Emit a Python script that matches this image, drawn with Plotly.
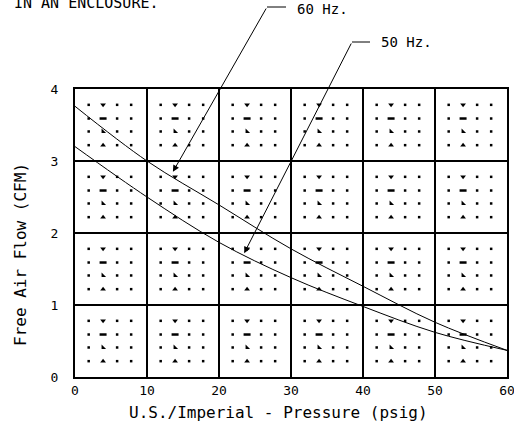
import plotly.graph_objects as go

pressure = [0, 10, 20, 30, 40, 50, 60]
flow_60hz = [3.76, 3.00, 2.39, 1.78, 1.26, 0.76, 0.37]
flow_50hz = [3.20, 2.50, 1.87, 1.38, 0.98, 0.62, 0.37]
x_ticks = [0, 10, 20, 30, 40, 50, 60]
y_ticks = [0, 1, 2, 3, 4]

FONT = "DejaVu Sans Mono"
L, R, T, B = 75, 7, 89, 48
W, H = 514, 425
PW, PH = W - L - R, H - T - B


def px2paper(px, py):
    return (px - L) / PW, (H - B - py) / PH


fig = go.Figure()

# decorative dot pattern inside each grid cell
xo = [0.19, 0.39, 0.585, 0.78]
yo = [0.78, 0.59, 0.41, 0.22]
dots_x, dots_y = [], []
special = {0: ([], [], "triangle-down"), 1: ([], [], "line-ew"),
           2: ([], [], "triangle-sw"), 3: ([], [], "triangle-up")}
for cx in range(6):
    for cy in range(4):
        for i, fx in enumerate(xo):
            for j, fy in enumerate(yo):
                px = cx * 10 + fx * 10
                py = cy + fy
                if i == 1:
                    special[j][0].append(px)
                    special[j][1].append(py)
                else:
                    dots_x.append(px)
                    dots_y.append(py)
fig.add_trace(go.Scatter(x=dots_x, y=dots_y, mode="markers", hoverinfo="skip",
                         marker=dict(symbol="square", size=2.5, color="black", line_width=0),
                         showlegend=False))
for j, (sx, sy, sym) in special.items():
    if sym == "line-ew":
        mk = dict(symbol=sym, size=5, color="black", line=dict(width=2.5, color="black"))
    else:
        mk = dict(symbol=sym, size=5, color="black", line=dict(width=0))
    fig.add_trace(go.Scatter(x=sx, y=sy, mode="markers", hoverinfo="skip", marker=mk, showlegend=False))

fig.add_trace(go.Scatter(x=pressure, y=flow_60hz, mode="lines", name="60 Hz.",
                         line=dict(color="black", width=1, shape="spline"), showlegend=False))
fig.add_trace(go.Scatter(x=pressure, y=flow_50hz, mode="lines", name="50 Hz.",
                         line=dict(color="black", width=1, shape="spline"), showlegend=False))

axis_common = dict(showline=True, linecolor="black", linewidth=2, mirror=True,
                   showgrid=True, gridcolor="black", gridwidth=2, zeroline=False,
                   automargin=False, ticklabeloverflow="allow",
                   ticks="", tickfont=dict(family=FONT, size=13, color="black"))
fig.update_xaxes(range=[0, 60], tickvals=x_ticks, ticktext=[str(v) for v in x_ticks], **axis_common)
fig.update_yaxes(range=[0, 4], tickvals=y_ticks, ticktext=[str(v) for v in y_ticks],
                 ticklabelstandoff=12, **axis_common)

ann = []
shapes = []
# leader lines: (tip in data), tail pixel, horizontal end pixel, label, label left pixel, label y
for tip, tail, hend, label, lx, ly in [((13.6, 2.85), (267, 7), 286, "60 Hz.", 295, 9),
                                       ((23.5, 1.72), (352, 42), 370, "50 Hz.", 379, 42)]:
    tx = (tail[0] - L) / PW * 60
    ty = (H - B - tail[1]) / PH * 4
    ann.append(dict(x=tip[0], y=tip[1], ax=tx, ay=ty, xref="x", yref="y",
                    axref="x", ayref="y", text="", showarrow=True, arrowhead=2,
                    arrowsize=1.3, arrowwidth=1, arrowcolor="black"))
    x0, y0 = px2paper(tail[0], tail[1])
    x1, _ = px2paper(hend, tail[1])
    shapes.append(dict(type="line", xref="paper", yref="paper", x0=x0, x1=x1, y0=y0, y1=y0,
                       line=dict(color="black", width=1)))
    lxp, lyp = px2paper(lx, ly)
    ann.append(dict(x=lxp, y=lyp, xref="paper", yref="paper", text=label, showarrow=False,
                    xanchor="left", yanchor="middle",
                    font=dict(family=FONT, size=14, color="black")))

tx_, ty_ = px2paper(12, 3)
ann.append(dict(x=tx_, y=ty_, xref="paper", yref="paper",
                text="IN AN ENCLOSURE.", showarrow=False, xanchor="left", yanchor="middle",
                font=dict(family=FONT, size=15, color="black")))
ax_, ay_ = px2paper(278, 412)
ann.append(dict(x=ax_, y=ay_, xref="paper", yref="paper",
                text="U.S./Imperial - Pressure (psig)", showarrow=False,
                xanchor="center", yanchor="middle",
                font=dict(family=FONT, size=16, color="black")))
yx_, yy_ = px2paper(20, 255)
ann.append(dict(x=yx_, y=yy_, xref="paper", yref="paper",
                text="Free Air Flow (CFM)", showarrow=False, textangle=-90,
                xanchor="center", yanchor="middle",
                font=dict(family=FONT, size=16, color="black")))

fig.update_layout(width=W, height=H, margin=dict(l=L, r=R, t=T, b=B),
                  paper_bgcolor="white", plot_bgcolor="white",
                  annotations=ann, shapes=shapes)

fig.write_html("out.html",
               config={"displayModeBar": False, "responsive": False},
               post_script="document.body.style.margin='0';"
                           "document.documentElement.style.overflow='hidden';"
                           "document.body.style.overflow='hidden';")
